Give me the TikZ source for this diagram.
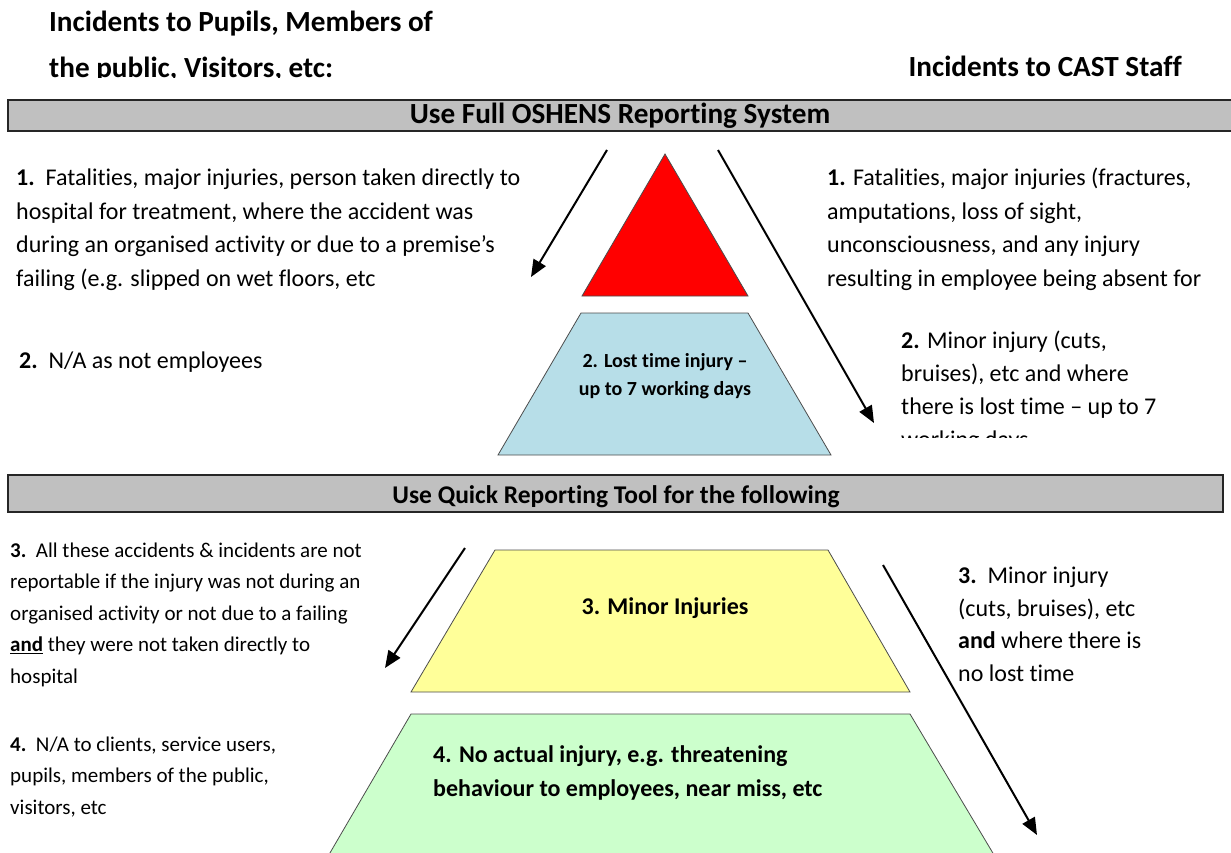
\documentclass[tikz,border=0pt]{standalone}
\usepackage{fontspec}
\setmainfont{Carlito}[Ligatures=NoCommon]
\usetikzlibrary{arrows.meta}
\definecolor{bargray}{HTML}{C0C0C0}
\definecolor{tred}{HTML}{FF0000}
\definecolor{tblue}{HTML}{B7DEE8}
\definecolor{tyellow}{HTML}{FFFF99}
\definecolor{tgreen}{HTML}{CCFFCC}
\newcommand\tf{\rule{0pt}{24pt}}
\begin{document}
\begin{tikzpicture}[x=1pt,y=-1pt,
  bar/.style={draw=black!85, line width=2pt, fill=bargray},
  shp/.style={draw=black!70, line width=0.8pt},
  arr/.style={line width=2pt, -{Triangle[length=17pt,width=14pt]}},
  head/.style={inner sep=0pt, anchor=base west, font=\fontsize{29.2}{34}\selectfont\bfseries},
  up/.style={inner sep=0pt, anchor=north west, align=left, font=\fontsize{24}{33.4}\selectfont},
  low/.style={inner sep=0pt, anchor=north west, align=left, font=\fontsize{21}{31.5}\selectfont},
  lowr/.style={inner sep=0pt, anchor=north west, align=left, font=\fontsize{24}{32.5}\selectfont},
  inner/.style={inner sep=0pt, anchor=base, font=\fontsize{20}{28}\selectfont\bfseries},
  inner2/.style={inner sep=0pt, anchor=base west, font=\fontsize{24}{34}\selectfont\bfseries}
]
\useasboundingbox (0,0) rectangle (1231,853);
\begin{scope}
\clip (0,0) rectangle (1231,853);
% headings
\node[head] (hA) at (49,32) {Incidents to Pupils, Members of};
\begin{scope}
\clip (0,42) rectangle (600,78);
\node[head] (hB) at (49,77.5) {the public, Visitors, etc:};
\end{scope}
\node[head, anchor=base east] (hC) at (1182,77) {Incidents to CAST Staff};
% bars
\draw[bar] (8,100) rectangle (1245,131);
\begin{scope}
\clip (8,100) rectangle (1231,130);
\node[head, anchor=base] (b1) at (620,124) {Use Full OSHENS Reporting System};
\end{scope}
\draw[bar] (8,475) rectangle (1223,512);
\node[head, anchor=base, font=\fontsize{25.5}{30}\selectfont\bfseries] (b2) at (616,503) {Use Quick Reporting Tool for the following};
% pyramid shapes
\draw[shp, fill=tred] (665,154) -- (748,296) -- (582,296) -- cycle;
\draw[shp, fill=tblue] (581,313) -- (748,313) -- (831,455) -- (498,455) -- cycle;
\draw[shp, fill=tyellow] (495,550) -- (828,550) -- (910,692) -- (411,692) -- cycle;
\draw[shp, fill=tgreen] (411,714) -- (910,714) -- (1003,870) -- (320,870) -- cycle;
\node[inner] (p2a) at (665,367) {2. Lost time injury –};
\node[inner] (p2b) at (665,395) {up to 7 working days};
\node[inner2, anchor=base] (p3) at (665,614.6) {3. Minor Injuries};
\node[inner2, align=left, anchor=north west] (p4) at (433,738.6) {\tf4. No actual injury, e.g. threatening\\behaviour to employees, near miss, etc};
% arrows
\coordinate (a1s) at (607,150); \coordinate (a1e) at (531,277);
\coordinate (a2s) at (718,150); \coordinate (a2e) at (874,423);
\coordinate (a3s) at (465,548); \coordinate (a3e) at (385,668);
\coordinate (a4s) at (883,565); \coordinate (a4e) at (1037,835);
\draw[arr] (a1s) -- (a1e);
\draw[arr] (a2s) -- (a2e);
\draw[arr] (a3s) -- (a3e);
\draw[arr] (a4s) -- (a4e);
% upper texts
\node[up] (L1) at (16,161.6) {\tf\textbf{1.}\ \ Fatalities, major injuries, person taken directly to\\hospital for treatment, where the accident was\\during an organised activity or due to a premise’s\\failing (e.g. slipped on wet floors, etc};
\node[up, anchor=base west] (L2) at (19,368.6) {\textbf{2.}\ \ N/A as not employees};
\node[up] (R1) at (827,161.6) {\tf\textbf{1.} Fatalities, major injuries (fractures,\\amputations, loss of sight,\\unconsciousness, and any injury\\resulting in employee being absent for};
\begin{scope}
\clip (880,320) rectangle (1231,437);
\node[up, font=\fontsize{24}{33}\selectfont] (R2) at (901,324.6) {\tf\textbf{2.} Minor injury (cuts,\\bruises), etc and where\\there is lost time – up to 7\\working days};
\end{scope}
% lower texts
\node[low] (L3) at (10,533) {\tf\textbf{3.}\ \ All these accidents \& incidents are not\\reportable if the injury was not during an\\organised activity or not due to a failing\\\underline{\textbf{and}} they were not taken directly to\\hospital};
\node[low] (L4) at (10,727) {\tf\textbf{4.}\ \ N/A to clients, service users,\\pupils, members of the public,\\visitors, etc};
\node[lowr] (R3) at (958,559.6) {\tf\textbf{3.}\ \ Minor injury\\(cuts, bruises), etc\\\textbf{and} where there is\\no lost time};
\end{scope}
\end{tikzpicture}
\end{document}
